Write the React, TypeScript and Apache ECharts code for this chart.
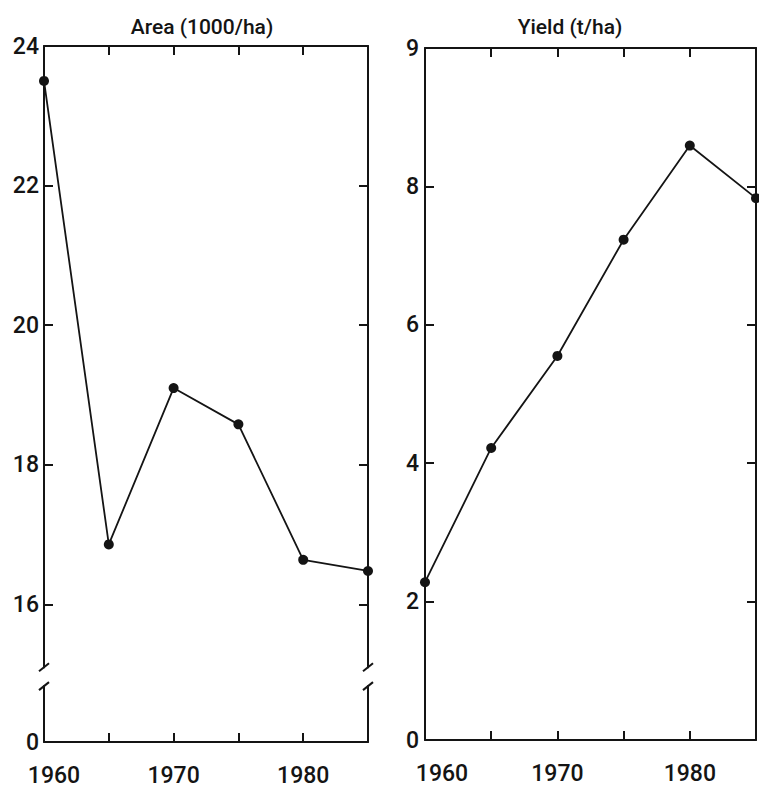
import React, { useEffect, useRef } from "react";
import * as echarts from "echarts";

const years = [1960, 1965, 1970, 1975, 1980, 1985];
const areaValues = [23.5, 16.86, 19.1, 18.58, 16.64, 16.48];
const yieldValues = [2.28, 4.22, 5.55, 7.23, 8.59, 7.83];
const panelTitles = ["Area (1000/ha)", "Yield (t/ha)"];
const areaTicks = [0, 16, 18, 20, 22, 24];
const areaBreak = { start: 0.8, end: 15.1, gap: 0.27 };
const yieldTopLabel = "9";

const INK = "#141414";
const FONT = "Roboto, 'Liberation Sans', Arial, sans-serif";
const WEIGHT = 500;

function xAxes(gridIndex: number, firstPad: number) {
  const common = {
    gridIndex,
    type: "value" as const,
    min: 1960,
    max: 1985,
    interval: 5,
    splitLine: { show: false },
    axisLine: { show: true, onZero: false, lineStyle: { color: INK, width: 2 } },
    axisTick: { show: true, inside: true, length: 9, lineStyle: { color: INK, width: 2 } },
  };
  return [
    {
      ...common,
      position: "bottom",
      axisLabel: {
        show: true,
        margin: 22,
        color: INK,
        fontSize: 23,
        fontWeight: WEIGHT,
        fontFamily: FONT,
        formatter: (v: number) =>
          v === 1960 ? "{first|1960}" : v % 10 === 0 && v < 1985 ? String(v) : "",
        rich: {
          first: { padding: [0, 0, 0, firstPad], fontSize: 23, fontWeight: WEIGHT, fontFamily: FONT, color: INK },
        },
      },
    },
    { ...common, position: "top", axisLabel: { show: false } },
  ];
}

function yAxes(gridIndex: number, extra: any, labelMargin: number, fmt: (v: number) => string, custom?: number[]) {
  const common = {
    gridIndex,
    type: "value" as const,
    splitLine: { show: false },
    axisLine: { show: true, onZero: false, lineStyle: { color: INK, width: 2 } },
    axisTick: {
      show: true,
      inside: true,
      length: 9,
      lineStyle: { color: INK, width: 2 },
      ...(custom ? { customValues: custom } : {}),
    },
    ...extra,
  };
  return [
    {
      ...common,
      position: "left",
      axisLabel: {
        show: true,
        margin: labelMargin,
        color: INK,
        fontSize: 23,
        fontWeight: WEIGHT,
        fontFamily: FONT,
        formatter: fmt,
        ...(custom ? { customValues: custom } : {}),
      },
    },
    { ...common, position: "right", axisLabel: { show: false } },
  ];
}

export default function App() {
  const ref = useRef<HTMLDivElement>(null);
  useEffect(() => {
    if (!ref.current) return;
    const chart = echarts.init(ref.current, null, { renderer: "svg" });
    const areaExtra = {
      min: 0,
      max: 24,
      interval: 2,
      breaks: [{ start: areaBreak.start, end: areaBreak.end, gap: areaBreak.gap }],
      breakArea: { show: false },
    };
    const yieldExtra = { min: 0, max: 10, interval: 2 };
    const seriesCommon = {
      type: "line" as const,
      symbol: "circle",
      symbolSize: 10,
      clip: false,
      lineStyle: { color: INK, width: 1.8 },
      itemStyle: { color: INK },
    };
    chart.setOption({
      animation: false,
      backgroundColor: "#ffffff",
      grid: [
        { left: 44, top: 46, width: 324, height: 696 },
        { left: 425, top: 48, width: 332, height: 692 },
      ],
      xAxis: [...xAxes(0, 20), ...xAxes(1, 34)],
      yAxis: [
        ...yAxes(0, areaExtra, 5, (v: number) => String(v), areaTicks),
        ...yAxes(1, yieldExtra, 6, (v: number) => (v === 10 ? yieldTopLabel : String(v))),
      ],
      series: [
        {
          ...seriesCommon,
          xAxisIndex: 0,
          yAxisIndex: 0,
          data: years.map((y, i) => [y, areaValues[i]]),
        },
        {
          ...seriesCommon,
          xAxisIndex: 2,
          yAxisIndex: 2,
          data: years.map((y, i) => [y, yieldValues[i]]),
        },
      ],
    });

    // break marks on the left panel's vertical axes
    const yLow = chart.convertToPixel({ yAxisIndex: 0 }, areaBreak.start) as number;
    const yHigh = chart.convertToPixel({ yAxisIndex: 0 }, areaBreak.end) as number;
    const xL = chart.convertToPixel({ xAxisIndex: 0 }, 1960) as number;
    const xR = chart.convertToPixel({ xAxisIndex: 0 }, 1985) as number;
    const t0 = Math.min(yLow, yHigh);
    const t1 = Math.max(yLow, yHigh);
    const marks: any[] = [];
    [xL, xR].forEach((x) => {
      marks.push({
        type: "rect",
        shape: { x: x - 3, y: t0 + 1, width: 6, height: t1 - t0 - 2 },
        style: { fill: "#ffffff" },
        z: 100,
      });
      [t0, t1].forEach((yy) => {
        marks.push({
          type: "line",
          shape: { x1: x - 5, y1: yy + 4, x2: x + 5, y2: yy - 4 },
          style: { stroke: INK, lineWidth: 2 },
          z: 101,
        });
      });
    });
    const titleY = 27;
    const titleFont = `${WEIGHT} 21px ${FONT}`;
    chart.setOption({
      graphic: [
        ...marks,
        {
          type: "text",
          x: (xL + xR) / 2 - 4,
          y: titleY,
          style: { text: panelTitles[0], fill: INK, font: titleFont, textAlign: "center", textVerticalAlign: "middle" },
        },
        {
          type: "text",
          x: 570,
          y: titleY,
          style: { text: panelTitles[1], fill: INK, font: titleFont, textAlign: "center", textVerticalAlign: "middle" },
        },
      ],
    });
    return () => chart.dispose();
  }, []);
  return <div ref={ref} style={{ position: "absolute", left: 0, top: 0, width: 759, height: 790 }} />;
}
